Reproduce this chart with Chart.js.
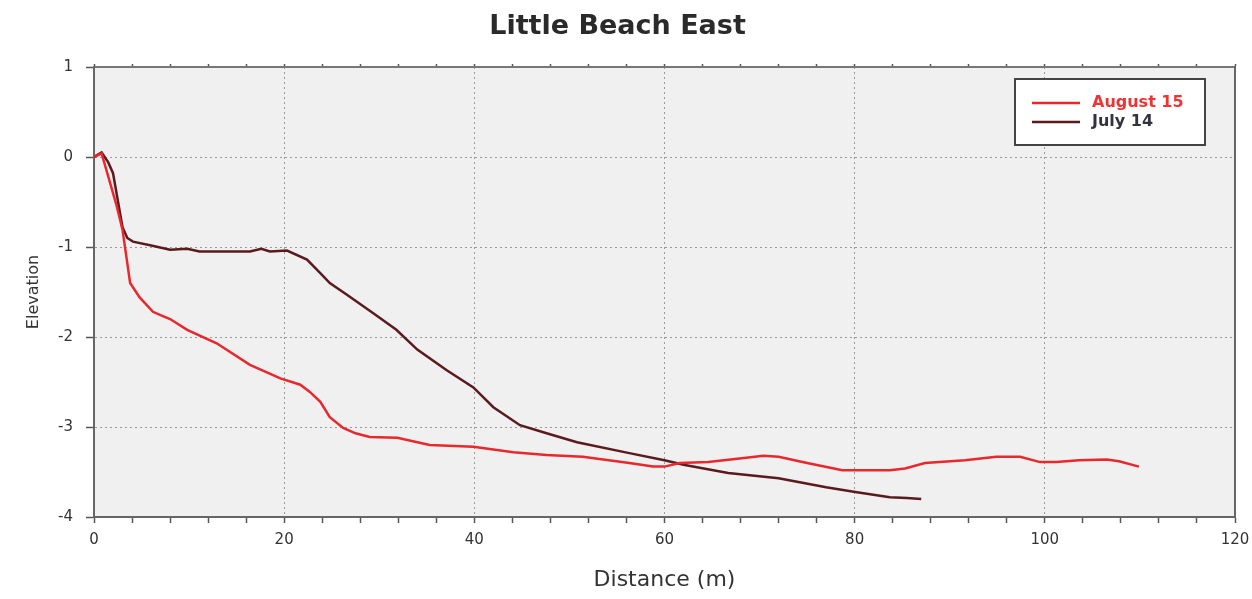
<!DOCTYPE html>
<html>
<head>
<meta charset="utf-8">
<title>Little Beach East</title>
<script src="https://cdn.jsdelivr.net/npm/chart.js@4/dist/chart.umd.min.js"></script>
<style>
  html, body { margin: 0; padding: 0; background: #fff; }
</style>
</head>
<body>
<canvas id="profile-chart" width="1252" height="599"></canvas>
<script>
'use strict';
// August 15 profile (distance m / elevation)
const augustDistances = [0, 0.8, 1.7, 2.4, 3.0, 3.8, 4.8, 6.2, 7.3, 8.0, 9.8, 12.9, 16.4, 19.6, 21.7, 22.7, 23.8, 24.8, 26.2, 27.5, 29.0, 31.9, 35.3, 39.9, 44.1, 47.6, 51.4, 56.3, 58.8, 60.0, 61.6, 64.6, 67.9, 70.4, 72.0, 75.0, 78.7, 83.7, 85.3, 87.4, 91.6, 94.9, 97.4, 99.5, 101.2, 103.6, 106.5, 107.8, 109.9];
const augustElevations = [0, 0.04, -0.29, -0.55, -0.81, -1.4, -1.56, -1.72, -1.77, -1.8, -1.92, -2.07, -2.31, -2.46, -2.53, -2.61, -2.72, -2.89, -3.01, -3.07, -3.11, -3.12, -3.2, -3.22, -3.28, -3.31, -3.33, -3.4, -3.44, -3.44, -3.4, -3.39, -3.35, -3.32, -3.33, -3.4, -3.48, -3.48, -3.46, -3.4, -3.37, -3.33, -3.33, -3.39, -3.39, -3.37, -3.36, -3.38, -3.44];
// July 14 profile
const julyDistances = [0, 0.8, 1.5, 2.0, 2.5, 3.0, 3.5, 4.1, 5.9, 8.0, 9.8, 11.1, 16.4, 17.6, 18.5, 20.3, 22.4, 23.8, 24.8, 26.6, 29.3, 31.8, 34.0, 37.1, 39.9, 42.0, 44.8, 47.6, 50.8, 56.3, 60.0, 62.0, 66.7, 72.0, 77.0, 79.9, 83.7, 85.5, 87.0];
const julyElevations = [0, 0.05, -0.06, -0.18, -0.48, -0.78, -0.9, -0.94, -0.98, -1.03, -1.02, -1.05, -1.05, -1.02, -1.05, -1.04, -1.14, -1.29, -1.4, -1.53, -1.73, -1.92, -2.14, -2.37, -2.56, -2.78, -2.98, -3.07, -3.17, -3.29, -3.37, -3.42, -3.51, -3.57, -3.67, -3.72, -3.78, -3.79, -3.8];
// axis ranges
const distanceMin = 0;
const distanceMax = 120;
const elevationMin = -4;
const elevationMax = 1;

const FONT = 'DejaVu Sans';

function toPoints(xs, ys) {
  return xs.map(function(x, i) { return { x: x, y: ys[i] }; });
}

// gray plot area
const plotBackground = {
  id: 'plotBackground',
  beforeDraw(chart) {
    const { ctx, chartArea: a } = chart;
    ctx.save();
    ctx.fillStyle = '#f0f0f0';
    ctx.fillRect(a.left, a.top, a.right - a.left, a.bottom - a.top);
    ctx.restore();
  }
};

// boxed legend inside the plot, top right
const boxLegend = {
  id: 'boxLegend',
  afterDraw(chart) {
    const { ctx, chartArea: a } = chart;
    const w = 190;
    const h = 66;
    const x = a.right - 30 - w;
    const y = a.top + 12;
    ctx.save();
    ctx.fillStyle = '#ffffff';
    ctx.fillRect(x, y, w, h);
    ctx.strokeStyle = '#444';
    ctx.lineWidth = 2;
    ctx.strokeRect(x, y, w, h);
    chart.data.datasets.forEach(function(ds, i) {
      const ly = y + 24 + i * 19;
      ctx.strokeStyle = ds.borderColor;
      ctx.lineWidth = 2.5;
      ctx.beginPath();
      ctx.moveTo(x + 17, ly);
      ctx.lineTo(x + 65, ly);
      ctx.stroke();
      ctx.fillStyle = ds.labelColor;
      ctx.font = 'bold 16px "' + FONT + '"';
      ctx.textBaseline = 'middle';
      ctx.fillText(ds.label, x + 77, ly);
    });
    ctx.restore();
  }
};

const majorGrid = function(ctx) {
  return ctx.tick && ctx.tick.value % 20 === 0 ? '#9a9a9a' : 'rgba(0,0,0,0)';
};

new Chart(document.getElementById('profile-chart').getContext('2d'), {
  type: 'line',
  data: {
    datasets: [{
      label: 'August 15',
      data: toPoints(augustDistances, augustElevations),
      borderColor: '#e8282c',
      labelColor: '#ee3535',
      borderWidth: 2.5,
      pointRadius: 0,
      tension: 0,
      fill: false,
    }, {
      label: 'July 14',
      data: toPoints(julyDistances, julyElevations),
      borderColor: '#5a1a1e',
      labelColor: '#33333f',
      borderWidth: 2.5,
      pointRadius: 0,
      tension: 0,
      fill: false,
    }],
  },
  options: {
    responsive: false,
    animation: false,
    layout: { padding: { right: 17 } },
    plugins: {
      legend: { display: false },
      tooltip: { enabled: false },
      title: {
        display: true,
        text: 'Little Beach East',
        color: '#2a2a2a',
        font: { family: FONT, size: 27, weight: 'bold' },
        padding: { top: 11, bottom: 4 },
      },
    },
    scales: {
      x: {
        type: 'linear',
        position: 'bottom',
        min: distanceMin,
        max: distanceMax,
        // fixed height, and let the 120 label hang into the right margin
        afterFit: function(s) {
          s.height = 82;
          s.paddingLeft = 0;
          s.paddingRight = 0;
        },
        ticks: {
          stepSize: 4,
          autoSkip: false,
          maxRotation: 0,
          padding: 8,
          color: '#333',
          font: { family: FONT, size: 15 },
          callback: function(v) { return v % 20 === 0 ? v : ''; },
        },
        grid: { color: majorGrid, tickColor: '#555', tickLength: 6, tickWidth: 1.5 },
        border: { color: '#666', width: 2, dash: [2, 3] },
        title: {
          display: true,
          text: 'Distance (m)',
          color: '#333',
          font: { family: FONT, size: 22 },
          padding: { top: 4, bottom: 6 },
        },
      },
      x2: {
        type: 'linear',
        position: 'top',
        min: distanceMin,
        max: distanceMax,
        afterFit: function(s) { s.height = 19.6; },
        ticks: { display: false, stepSize: 4, autoSkip: false },
        grid: { drawOnChartArea: false, tickColor: '#555', tickLength: 3, tickWidth: 1.5 },
        border: { color: '#777', width: 2 },
      },
      y: {
        type: 'linear',
        position: 'left',
        min: elevationMin,
        max: elevationMax,
        afterFit: function(s) { s.width = 94; },
        ticks: {
          stepSize: 1,
          padding: 13,
          color: '#333',
          font: { family: FONT, size: 15 },
        },
        grid: { color: '#9a9a9a', tickColor: '#555', tickLength: 8, tickWidth: 1.5 },
        border: { color: '#666', width: 2, dash: [2, 3] },
        title: {
          display: true,
          text: 'Elevation',
          color: '#333',
          font: { family: FONT, size: 16 },
          padding: { top: 24 },
        },
      },
      y2: {
        type: 'linear',
        position: 'right',
        min: elevationMin,
        max: elevationMax,
        afterFit: function(s) { s.width = 0; },
        ticks: { display: false },
        grid: { display: false },
        border: { color: '#666', width: 2 },
      },
    },
  },
  plugins: [plotBackground, boxLegend],
});
</script>
</body>
</html>
